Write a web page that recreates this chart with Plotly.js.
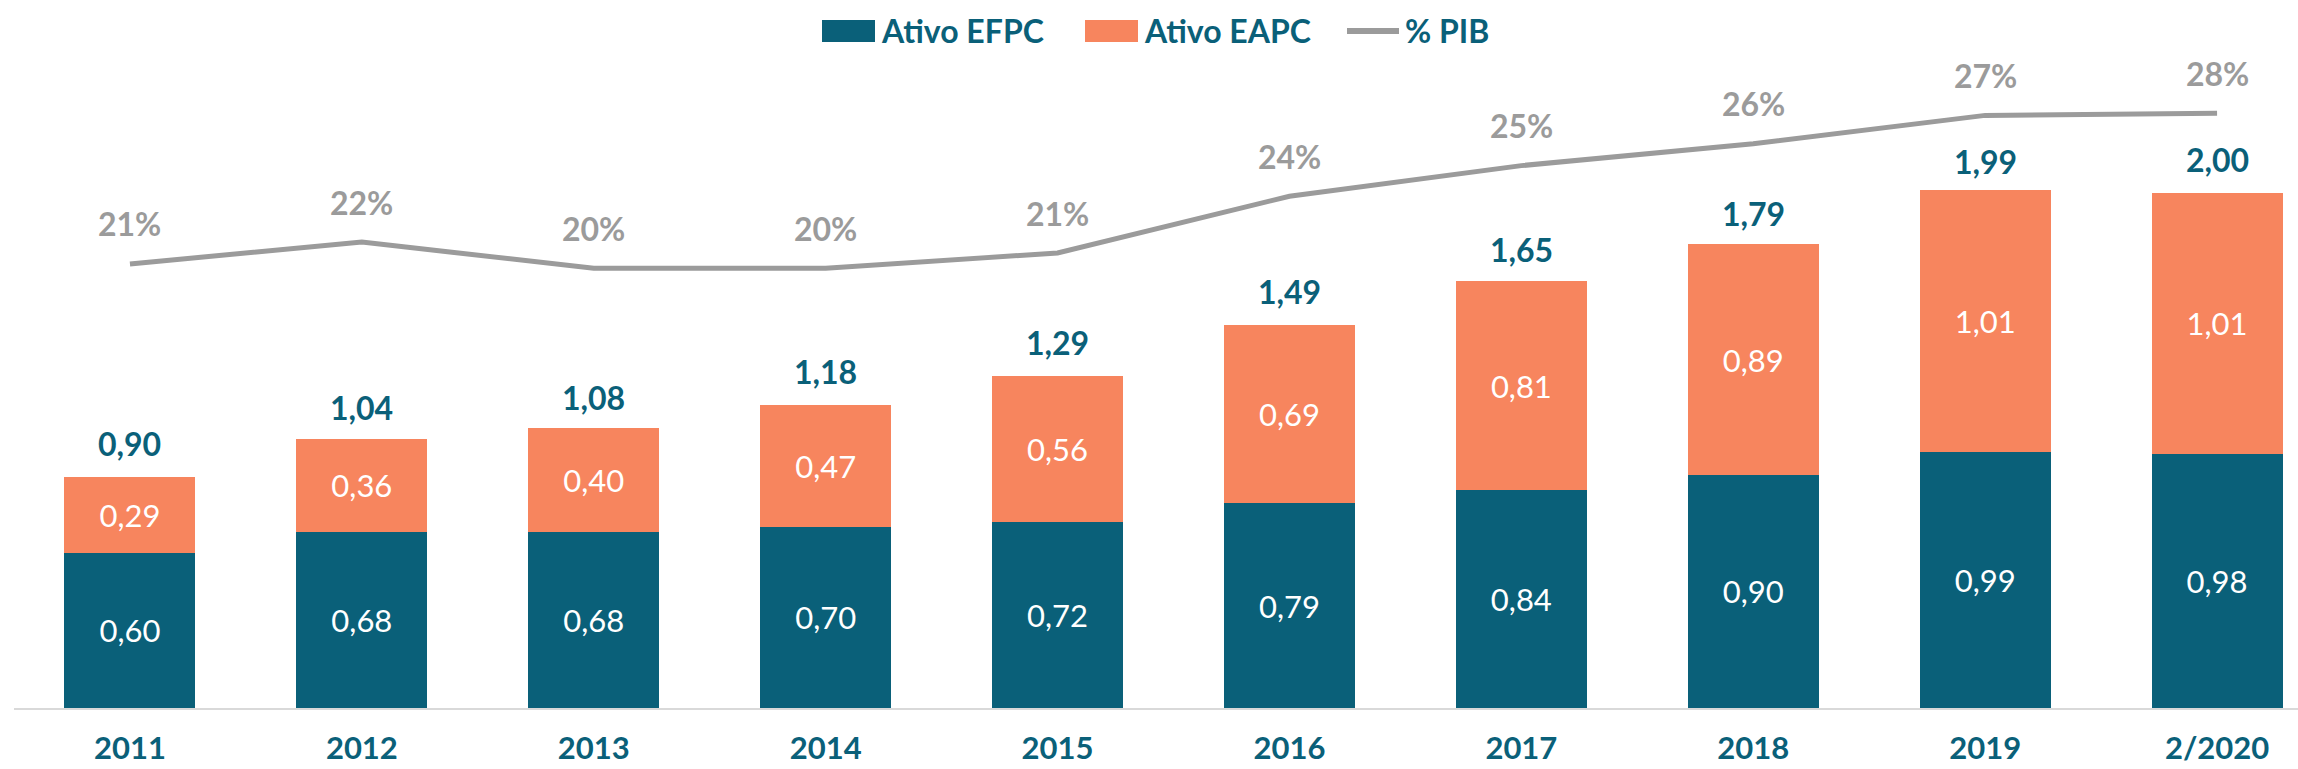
<!DOCTYPE html>
<html>
<head>
<meta charset="utf-8">
<script src="https://cdn.plot.ly/plotly-3.0.1.min.js"></script>
<style>
  html, body { margin: 0; padding: 0; background: #ffffff; }
  #chart { width: 2298px; height: 769px; }
</style>
</head>
<body>
<div id="chart"></div>
<script>
// ---- Data ----
const categories = ['2011', '2012', '2013', '2014', '2015', '2016', '2017', '2018', '2019', '2/2020'];
const ativoEFPC = [0.60, 0.68, 0.68, 0.70, 0.72, 0.79, 0.84, 0.90, 0.99, 0.98];
const ativoEAPC = [0.29, 0.36, 0.40, 0.47, 0.56, 0.69, 0.81, 0.89, 1.01, 1.01];
const totais = [0.90, 1.04, 1.08, 1.18, 1.29, 1.49, 1.65, 1.79, 1.99, 2.00];
const pctPIB = [20.6, 21.6, 20.4, 20.4, 21.1, 23.7, 25.1, 26.1, 27.4, 27.5];

// ---- Style ----
const TEAL = '#0a6079';
const ORANGE = '#f7855e';
const GRAY = '#9b9b9b';
const FONT = 'Lato, "Open Sans", "Noto Sans", sans-serif';

const W = 2298, H = 769;
const M = { l: 14, r: 0, t: 80, b: 61 };
const plotW = W - M.l - M.r, plotH = H - M.t - M.b;
const px2x = px => (px - M.l) / plotW;
const py2y = py => (H - M.b - py) / plotH;

const fmt = v => v.toFixed(2).replace('.', ',');

const traces = [
  {
    type: 'bar', name: 'Ativo EFPC', x: categories, y: ativoEFPC,
    marker: { color: TEAL },
    text: ativoEFPC.map(fmt), textposition: 'inside', insidetextanchor: 'middle',
    textfont: { family: FONT, size: 31, color: '#ffffff' },
    hoverinfo: 'skip', showlegend: false
  },
  {
    type: 'bar', name: 'Ativo EAPC', x: categories, y: ativoEAPC,
    marker: { color: ORANGE },
    text: ativoEAPC.map(fmt), textposition: 'inside', insidetextanchor: 'middle',
    textfont: { family: FONT, size: 31, color: '#ffffff' },
    hoverinfo: 'skip', showlegend: false
  },
  {
    type: 'scatter', mode: 'lines', name: '% PIB', x: categories, y: pctPIB,
    yaxis: 'y2', line: { color: GRAY, width: 5 },
    hoverinfo: 'skip', showlegend: false
  }
];

const annotations = [];
categories.forEach((c, i) => {
  annotations.push({
    x: i, y: totais[i], xref: 'x', yref: 'y', text: '<b>' + fmt(totais[i]) + '</b>',
    showarrow: false, xanchor: 'center', yanchor: 'middle', yshift: 31,
    font: { family: FONT, size: 32, color: TEAL }
  });
  annotations.push({
    x: i, y: pctPIB[i], xref: 'x', yref: 'y2', text: '<b>' + Math.round(pctPIB[i]) + '%</b>',
    showarrow: false, xanchor: 'center', yanchor: 'middle', yshift: 40,
    font: { family: FONT, size: 32, color: GRAY }
  });
});

// custom legend
const legendItems = [
  { label: 'Ativo EFPC', kind: 'rect', color: TEAL, x0: 822, x1: 875 },
  { label: 'Ativo EAPC', kind: 'rect', color: ORANGE, x0: 1085, x1: 1138 },
  { label: '% PIB', kind: 'line', color: GRAY, x0: 1347, x1: 1399 }
];
const shapes = [];
const LEG_Y = 31;
legendItems.forEach(it => {
  if (it.kind === 'rect') {
    shapes.push({ type: 'rect', xref: 'paper', yref: 'paper',
      x0: px2x(it.x0), x1: px2x(it.x1), y0: py2y(LEG_Y + 11), y1: py2y(LEG_Y - 11),
      fillcolor: it.color, line: { width: 0 } });
  } else {
    shapes.push({ type: 'line', xref: 'paper', yref: 'paper',
      x0: px2x(it.x0), x1: px2x(it.x1), y0: py2y(LEG_Y), y1: py2y(LEG_Y),
      line: { color: it.color, width: 6 } });
  }
  annotations.push({
    xref: 'paper', yref: 'paper', x: px2x(it.x1 + 4), y: py2y(LEG_Y),
    xanchor: 'left', yanchor: 'middle', showarrow: false,
    text: '<b>' + it.label + '</b>',
    font: { family: FONT, size: 32, color: TEAL }
  });
});

const layout = {
  width: W, height: H,
  margin: M,
  paper_bgcolor: '#ffffff', plot_bgcolor: 'rgba(0,0,0,0)',
  barmode: 'stack', bargap: 0.435,
  showlegend: false,
  font: { family: FONT },
  xaxis: {
    type: 'category', range: [-0.5, 9.349], fixedrange: true,
    showgrid: false, zeroline: false,
    showline: true, linecolor: '#d9d9d9', linewidth: 2,
    ticks: 'outside', ticklen: 12, tickcolor: 'rgba(0,0,0,0)',
    tickfont: { family: FONT, size: 31, color: TEAL, weight: 'bold' },
    automargin: false
  },
  yaxis: {
    range: [0, plotH / 259], visible: false, showgrid: false, zeroline: false, fixedrange: true
  },
  yaxis2: {
    overlaying: 'y', range: [0.27, 29.02], visible: false, showgrid: false, zeroline: false, fixedrange: true
  },
  shapes: shapes,
  annotations: annotations
};

Plotly.newPlot('chart', traces, layout, { displayModeBar: false, staticPlot: true });
</script>
</body>
</html>
